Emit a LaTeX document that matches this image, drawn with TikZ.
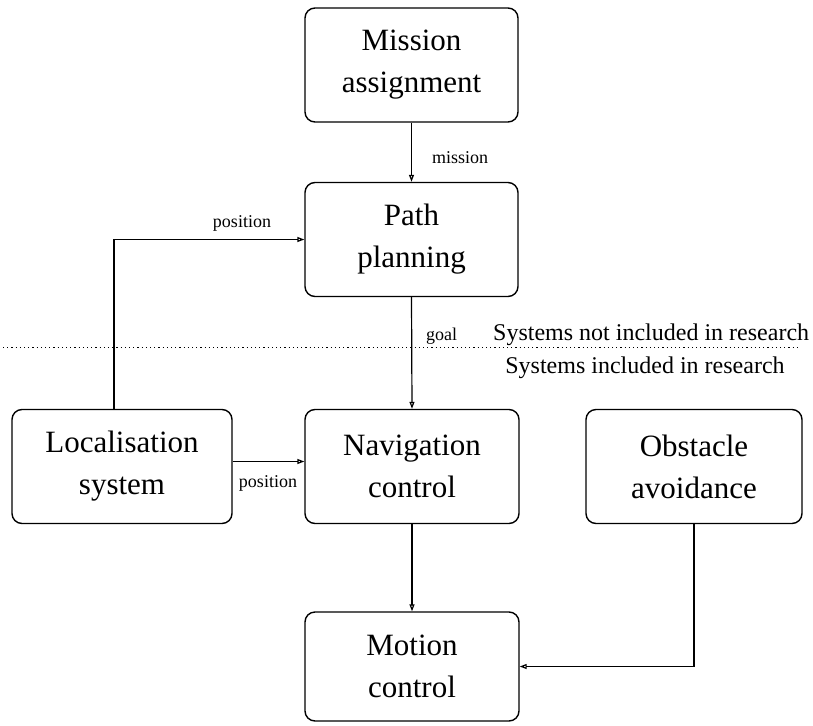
\documentclass[tikz,border=0pt]{standalone}
\usepackage{fontspec}
\setmainfont{Liberation Serif}
\usetikzlibrary{arrows.meta}
\begin{document}
\begin{tikzpicture}[x=1pt,y=-1pt,
  box/.style={draw, line width=1.4pt, rounded corners=10pt, minimum height=114pt, align=center, font=\fontsize{31}{42}\selectfont, inner sep=0pt},
  conn/.style={line width=1.2pt, -{Triangle[open,length=7pt,width=5pt]}},
  lbl/.style={font=\fontsize{18}{20}\selectfont, inner sep=0pt},
  note/.style={font=\fontsize{24}{26}\selectfont, inner sep=0pt},
  sep/.style={line width=1pt, dash pattern=on 1.2pt off 3pt}]
\useasboundingbox (0,0) rectangle (813,725);
\node[box, minimum width=213pt] (mission) at (411.5,65) {Mission\\assignment};
\node[box, minimum width=213pt] (path) at (411.5,239.5) {Path\\planning};
\node[box, minimum width=220pt] (loc) at (122,466.5) {Localisation\\system};
\node[box, minimum width=214pt] (nav) at (412,466.5) {Navigation\\control};
\node[box, minimum width=216pt] (obst) at (694,466.5) {Obstacle\\avoidance};
\node[box, minimum width=214pt, minimum height=109pt] (motion) at (412,666.5) {Motion\\control};
\coordinate (lx) at (114,0);
\coordinate (sepA) at (3,347);
\coordinate (sepB) at (798,347);
\draw[sep] (sepA) -- (sepB);
\draw[conn] (mission.south) -- (path.north);
\draw[conn] (path.south) -- (nav.north);
\draw[conn] (nav.south) -- (motion.north);
\draw[conn] (loc.north -| lx) |- (path.west);
\draw[conn] ([yshift=5pt]loc.east) -- ([yshift=5pt]loc.east -| nav.west);
\draw[conn] (obst.south) |- (motion.east);
\node[lbl, anchor=west] (lmission) at (432,158) {mission};
\node[lbl] (lpos1) at (242,223) {position};
\node[lbl] (lpos2) at (268,483) {position};
\node[lbl, anchor=base west] (lgoal) at (426,340) {goal};
\node[note, anchor=base west] (notin) at (493,340) {Systems not included in research};
\node[note] (isin) at (645,368) {Systems included in research};
\end{tikzpicture}
\end{document}
